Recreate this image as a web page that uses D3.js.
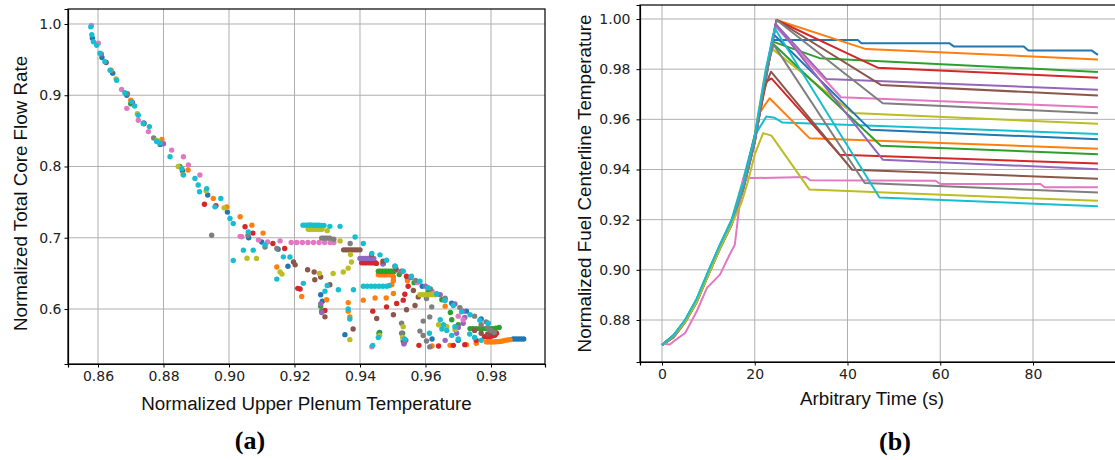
<!DOCTYPE html>
<html>
<head>
<meta charset="utf-8">
<script src="https://cdn.jsdelivr.net/npm/d3@7"></script>
<style>
  body { margin: 0; background: #fff; }
  svg { display: block; }
  .tick text { font-family: "DejaVu Sans", sans-serif; font-size: 14px; fill: #222; }
  .lbl { font-family: "Liberation Sans", Arial, sans-serif; font-size: 18.8px; fill: #111; }
  .tag { font-family: "Liberation Serif", "Times New Roman", serif; font-size: 26px; font-weight: bold; fill: #000; }
</style>
</head>
<body>
<svg id="chart" width="1115" height="460"></svg>
<script>
// matplotlib default colour cycle
const tab10 = ["#1f77b4","#ff7f0e","#2ca02c","#d62728","#9467bd","#8c564b","#e377c2","#7f7f7f","#bcbd22","#17becf"];

// ---- panel (a) ticks
const plenumTicks = [0.86, 0.88, 0.90, 0.92, 0.94, 0.96, 0.98];
const flowTicks = [0.6, 0.7, 0.8, 0.9, 1.0];

// ---- panel (b) ticks
const timeTicks = [0, 20, 40, 60, 80];
const fuelTicks = [0.88, 0.90, 0.92, 0.94, 0.96, 0.98, 1.00];

// ---- panel (a) points: [upper plenum temp, core flow rate]
const blueDots = [[0.8583,0.980],[0.8612,0.953],[0.8645,0.931],[0.8688,0.900],[0.8740,0.861],[0.8790,0.831],[0.8858,0.794],[0.8935,0.760],[0.8995,0.736],[0.9060,0.700],[0.9100,0.694],[0.9150,0.684],
  [0.9280,0.620],[0.9285,0.611],[0.9180,0.660],
  [0.9500,0.651],[0.9545,0.642],[0.9590,0.632],[0.9635,0.621],[0.9680,0.608],[0.9725,0.597],[0.9770,0.586],
  [0.9354,0.564],[0.9460,0.567],[0.9532,0.555],[0.9620,0.558],[0.9700,0.556],
  [0.9868,0.558],[0.9876,0.558],[0.9884,0.558],[0.9892,0.558],[0.9900,0.558]];
const orangeDots = [[0.8640,0.935],[0.8700,0.893],[0.8795,0.838],[0.8860,0.789],[0.8875,0.795],[0.8952,0.7552],[0.8993,0.7434],[0.9034,0.7294],[0.9070,0.7177],[0.9104,0.7065],
  [0.9146,0.659],[0.9222,0.6175],[0.9298,0.613],[0.9364,0.609],[0.9364,0.597],[0.9369,0.589],
  [0.9456,0.648],[0.9462,0.648],[0.9468,0.648],[0.9474,0.648],[0.9480,0.648],[0.9486,0.648],[0.9492,0.648],[0.9498,0.648],[0.9502,0.645],
  [0.9502,0.640],[0.9497,0.634],[0.9502,0.6217],[0.9480,0.6155],[0.9446,0.6155],[0.9410,0.6124],
  [0.9545,0.6395],[0.9660,0.604],
  [0.9620,0.548],[0.9675,0.549],[0.9725,0.550],[0.9755,0.552],[0.9786,0.5538],[0.9793,0.5538],[0.9800,0.5538],[0.9807,0.5538],[0.9814,0.554],[0.9821,0.5542],[0.9828,0.5545],[0.9836,0.555],[0.9843,0.556],[0.9850,0.5565],[0.9858,0.557]];
const greenDots = [[0.8700,0.888],[0.8850,0.800],[0.9280,0.604],[0.9283,0.597],
  [0.9456,0.6531],[0.9462,0.6531],[0.9468,0.6531],[0.9474,0.6531],[0.9480,0.6531],[0.9486,0.6531],[0.9492,0.6531],[0.9498,0.6531],[0.9504,0.6531],
  [0.9520,0.6485],[0.9565,0.637],[0.9610,0.625],[0.9650,0.613],
  [0.9676,0.595],[0.9680,0.585],[0.9700,0.578],[0.9736,0.5725],[0.9745,0.5725],[0.9755,0.5725],[0.9765,0.5725],[0.9775,0.5725],[0.9785,0.5725],[0.9795,0.5725],[0.9805,0.5725],[0.9815,0.573],[0.9825,0.574],
  [0.9458,0.566],[0.9530,0.566]];
const redDots = [[0.8705,0.890],[0.8925,0.747],[0.8960,0.745],[0.9049,0.7154],[0.9073,0.7065],[0.9134,0.692],[0.9170,0.685],
  [0.9210,0.629],[0.9217,0.628],[0.9293,0.598],
  [0.9405,0.665],[0.9411,0.665],[0.9417,0.665],[0.9423,0.665],[0.9429,0.665],[0.9435,0.665],[0.9441,0.665],[0.9447,0.665],[0.9450,0.664],
  [0.9471,0.664],[0.9507,0.660],[0.9527,0.653],[0.9542,0.646],[0.9547,0.632],[0.9537,0.6206],[0.9532,0.6124],[0.9512,0.6077],[0.9481,0.603],[0.9439,0.597],
  [0.9535,0.553],[0.9580,0.549],[0.9640,0.548],[0.9685,0.549],[0.9720,0.550],[0.9755,0.556],[0.9780,0.561],[0.9788,0.561],[0.9796,0.561],[0.9804,0.562],[0.9812,0.563],[0.9817,0.566]];
const purpleDots = [[0.8610,0.958],[0.8800,0.832],[0.9283,0.595],[0.9280,0.607],
  [0.9400,0.671],[0.9406,0.671],[0.9412,0.671],[0.9418,0.671],[0.9424,0.671],[0.9430,0.671],[0.9436,0.671],[0.9442,0.671],
  [0.9470,0.663],[0.9510,0.655],[0.9555,0.644],[0.9600,0.632],[0.9645,0.620],[0.9690,0.607],
  [0.9715,0.597],[0.9720,0.588],[0.9715,0.580],[0.9700,0.574],[0.9695,0.566],[0.9534,0.551],[0.9540,0.556],[0.9660,0.556]];
const brownDots = [[0.8625,0.946],[0.8740,0.860],[0.9197,0.666],[0.9202,0.662],[0.9240,0.655],[0.9260,0.652],[0.9280,0.645],[0.9262,0.641],[0.9293,0.589],[0.9379,0.572],[0.9308,0.634],
  [0.9350,0.683],[0.9357,0.683],[0.9364,0.683],[0.9371,0.683],[0.9378,0.683],[0.9385,0.683],[0.9392,0.683],[0.9400,0.683],
  [0.9435,0.676],[0.9470,0.667],[0.9510,0.656],
  [0.9563,0.626],[0.9578,0.617],[0.9568,0.605],[0.9542,0.599],[0.9502,0.592],[0.9451,0.5866],
  [0.9750,0.570],[0.9770,0.566],[0.9790,0.565],[0.9800,0.568]];
const pinkDots = [[0.8580,0.998],[0.8601,0.973],[0.8672,0.908],[0.8688,0.8816],[0.8723,0.865],[0.8754,0.849],[0.8825,0.823],[0.8861,0.8136],[0.8876,0.802],[0.8911,0.788],[0.9039,0.7013],[0.9034,0.702],[0.9090,0.697],[0.9118,0.694],
  [0.9156,0.6956],[0.9190,0.6933],[0.9207,0.6933],[0.9224,0.6933],[0.9241,0.6933],[0.9258,0.6933],[0.9275,0.6933],[0.9292,0.6933],[0.9309,0.6933],[0.9320,0.6933],
  [0.9575,0.637],[0.9620,0.625],[0.9660,0.612],[0.9700,0.590],[0.9715,0.585],[0.9436,0.547]];
const grayDots = [[0.8690,0.902],[0.8770,0.840],[0.8947,0.7036],[0.9058,0.7036],[0.9110,0.687],[0.9146,0.685],
  [0.9283,0.6995],[0.9289,0.6995],[0.9295,0.6995],[0.9301,0.6995],[0.9308,0.6995],[0.9320,0.698],[0.9370,0.692],
  [0.9525,0.652],[0.9570,0.640],[0.9615,0.628],[0.9660,0.615],[0.9705,0.602],[0.9750,0.590],[0.9785,0.582],
  [0.9603,0.6146],[0.9619,0.603],[0.9613,0.5889],[0.9593,0.583],[0.9583,0.569],[0.9593,0.5628],[0.9603,0.555],[0.9613,0.5468],
  [0.9770,0.578],[0.9790,0.574],[0.9800,0.570],[0.9810,0.567],[0.9527,0.580],[0.9527,0.566]];
const oliveDots = [[0.8655,0.923],[0.8720,0.874],[0.8780,0.8365],[0.8845,0.800],[0.8930,0.766],[0.8985,0.742],[0.9084,0.671],[0.9055,0.6713],[0.9162,0.649],
  [0.9242,0.712],[0.9249,0.712],[0.9256,0.712],[0.9263,0.712],[0.9270,0.712],[0.9277,0.712],[0.9284,0.712],[0.9300,0.710],
  [0.9339,0.6956],[0.9371,0.6764],[0.9374,0.666],[0.9364,0.6573],[0.9349,0.652],[0.9318,0.6498],[0.9276,0.6498],[0.9156,0.652],
  [0.9583,0.620],[0.9592,0.620],[0.9601,0.620],[0.9610,0.620],[0.9620,0.620],[0.9630,0.620],
  [0.9640,0.578],[0.9665,0.575],[0.9690,0.571],[0.9369,0.557],[0.9460,0.563],[0.9530,0.560],[0.9532,0.575]];
const cyanDots = [[0.8578,0.996],[0.8581,0.985],[0.8586,0.975],[0.8596,0.970],[0.8606,0.959],[0.8621,0.947],[0.8637,0.935],[0.8657,0.921],[0.8682,0.9035],[0.8703,0.891],[0.8712,0.885],[0.8723,0.872],[0.8738,0.8605],[0.8757,0.856],[0.8779,0.835],[0.8789,0.833],[0.8820,0.8136],[0.8856,0.797],[0.8861,0.788],[0.8896,0.7833],[0.8906,0.774],[0.8910,0.7645],[0.8932,0.769],[0.8957,0.7434],[0.8975,0.755],[0.9003,0.7271],[0.9013,0.720],[0.9059,0.7083],[0.9074,0.6826],[0.9013,0.668],[0.9044,0.6826],[0.9110,0.690],[0.9146,0.642],[0.9166,0.6732],[0.9186,0.673],
  [0.9226,0.7177],[0.9233,0.7177],[0.9240,0.7177],[0.9247,0.718],[0.9254,0.7177],[0.9261,0.7177],[0.9268,0.7175],[0.9275,0.7175],[0.9282,0.7172],[0.9290,0.7172],[0.9308,0.716],[0.9339,0.716],[0.9385,0.701],[0.9410,0.692],[0.9436,0.678],[0.9461,0.676],
  [0.9481,0.6685],[0.9507,0.660],[0.9532,0.653],[0.9557,0.646],[0.9583,0.639],[0.9608,0.630],[0.9634,0.621],[0.9659,0.612],[0.9685,0.605],[0.9710,0.596],[0.9736,0.592],[0.9766,0.5843],[0.9792,0.580],
  [0.9410,0.632],[0.9422,0.632],[0.9434,0.632],[0.9446,0.632],[0.9458,0.632],[0.9470,0.632],[0.9482,0.632],[0.9490,0.633],
  [0.9380,0.627],[0.9334,0.627],[0.9300,0.633],[0.9227,0.636],[0.9293,0.625],
  [0.9364,0.600],[0.9369,0.586],[0.9439,0.549],[0.9456,0.560],[0.9536,0.558],[0.9612,0.566],[0.9650,0.572],[0.9690,0.575],
  [0.9645,0.585],[0.9655,0.578],[0.9665,0.570],[0.9680,0.563],[0.9700,0.558],[0.9735,0.565],[0.9750,0.560],[0.9770,0.556]];
const dotSets = [blueDots, orangeDots, greenDots, redDots, purpleDots, brownDots, pinkDots, grayDots, oliveDots, cyanDots];

// ---- panel (b) runs: [time (s), normalized fuel centerline temperature]
const run01 = [[0,0.870],[2.5,0.8738],[5,0.8798],[7.5,0.888],[10,0.899],[12.5,0.9095],[15,0.919],[17.5,0.933],[20,0.952],[22.5,0.979],[23.9,0.9916],[42.2,0.9916],[43,0.9903],[62,0.9903],[63,0.989],[78,0.989],[79,0.9874],[92.7,0.9874],[94,0.9857]];
const run02 = [[0,0.870],[2.5,0.8732],[5,0.8792],[7.5,0.8872],[10,0.898],[12.5,0.9085],[15,0.9185],[17.5,0.9325],[20,0.9515],[22.5,0.978],[24.7,0.9996],[44,0.988],[94,0.9839]];
const run03 = [[0,0.870],[2.5,0.8736],[5,0.8796],[7.5,0.8878],[10,0.8988],[12.5,0.9092],[15,0.9188],[17.5,0.9335],[20,0.953],[22.5,0.980],[23.9,0.991],[34,0.9844],[94,0.9789]];
const run04 = [[0,0.870],[2.5,0.8734],[5,0.8794],[7.5,0.8874],[10,0.8984],[12.5,0.9088],[15,0.9182],[17.5,0.9322],[20,0.9512],[22.5,0.9775],[24.7,0.9996],[46.5,0.9806],[94,0.9766]];
const run05 = [[0,0.870],[2.5,0.8737],[5,0.8797],[7.5,0.8877],[10,0.8986],[12.5,0.909],[15,0.9186],[17.5,0.9328],[20,0.952],[22.5,0.9785],[24.5,0.998],[35.4,0.9761],[94,0.9718]];
const run06 = [[0,0.870],[2.5,0.8733],[5,0.8793],[7.5,0.8873],[10,0.8982],[12.5,0.9086],[15,0.918],[17.5,0.932],[20,0.951],[22.5,0.9772],[24.7,0.9996],[47.2,0.9737],[94,0.9695]];
const run07 = [[0,0.870],[2.5,0.8735],[5,0.8795],[7.5,0.8876],[10,0.8985],[12.5,0.9089],[15,0.9184],[17.5,0.9326],[20,0.9518],[22.5,0.978],[24.5,0.997],[38.6,0.9688],[94,0.9648]];
const run08 = [[0,0.870],[2.5,0.8731],[5,0.8791],[7.5,0.8871],[10,0.898],[12.5,0.9084],[15,0.9178],[17.5,0.9318],[20,0.9508],[22.5,0.977],[24.7,0.9996],[47.6,0.9664],[94,0.9624]];
const run09 = [[0,0.870],[2.5,0.8739],[5,0.8799],[7.5,0.8882],[10,0.8992],[12.5,0.9098],[15,0.9195],[17.5,0.934],[20,0.954],[22.2,0.978],[23.5,0.9885],[41.1,0.9625],[94,0.9582]];
const run10 = [[0,0.870],[2.5,0.874],[5,0.880],[7.5,0.8884],[10,0.8995],[12.5,0.910],[15,0.920],[17.5,0.936],[20,0.9535],[22.5,0.9611],[24.3,0.9606],[26,0.9587],[94,0.9542]];
const run11 = [[0,0.870],[2.5,0.8737],[5,0.8797],[7.5,0.8879],[10,0.8989],[12.5,0.9093],[15,0.919],[17.5,0.9332],[20,0.9525],[22.5,0.9795],[24,0.994],[45,0.9558],[94,0.9521]];
const run12 = [[0,0.870],[2.5,0.8736],[5,0.8796],[7.5,0.8877],[10,0.8987],[12.5,0.9092],[15,0.919],[17.5,0.9345],[19.5,0.948],[21,0.9625],[23.2,0.9684],[31.8,0.9525],[94,0.9483]];
const run13 = [[0,0.870],[2.5,0.8734],[5,0.8794],[7.5,0.8875],[10,0.8985],[12.5,0.909],[15,0.9186],[17.5,0.9327],[20,0.9519],[22.5,0.9788],[24,0.990],[47.2,0.9495],[94,0.9461]];
const run14 = [[0,0.870],[2.5,0.8738],[5,0.8798],[7.5,0.888],[10,0.899],[12.5,0.9096],[15,0.9192],[17.5,0.9335],[20,0.953],[22.5,0.975],[23.6,0.9763],[38.3,0.9459],[94,0.9424]];
const run15 = [[0,0.870],[2.5,0.8733],[5,0.8793],[7.5,0.8874],[10,0.8983],[12.5,0.9087],[15,0.9181],[17.5,0.9321],[20,0.9511],[22.5,0.9776],[24.5,0.998],[47.6,0.9439],[94,0.9401]];
const run16 = [[0,0.870],[2.5,0.8736],[5,0.8796],[7.5,0.8878],[10,0.8988],[12.5,0.9094],[15,0.9192],[17.5,0.9338],[20,0.9535],[22,0.972],[23.5,0.979],[41,0.9399],[94,0.9363]];
const run17 = [[0,0.8705],[1.7,0.8702],[2.8,0.8719],[5,0.8748],[7.5,0.8835],[9.7,0.8928],[12.5,0.8981],[14.6,0.9061],[15.7,0.910],[16.4,0.921],[17.5,0.9365],[31,0.937],[32,0.9357],[59,0.9355],[60,0.9342],[81.6,0.9342],[82.5,0.9329],[94,0.9329]];
const run18 = [[0,0.870],[2.5,0.8735],[5,0.8795],[7.5,0.8876],[10,0.8986],[12.5,0.909],[15,0.9185],[17.5,0.9328],[20,0.952],[22.5,0.979],[24,0.990],[43.7,0.9346],[94,0.9308]];
const run19 = [[0,0.870],[2.5,0.8736],[5,0.8793],[7.5,0.8872],[10,0.898],[12.5,0.9085],[15,0.918],[17.1,0.9266],[18.5,0.935],[20,0.946],[21.8,0.9545],[23.6,0.9535],[31.8,0.932],[94,0.9275]];
const run20 = [[0,0.870],[2.5,0.874],[5,0.8802],[7.5,0.8886],[10,0.8996],[12.5,0.910],[15,0.9196],[17.5,0.934],[20,0.9535],[22.5,0.981],[24.3,0.9963],[46.9,0.9288],[94,0.9254]];
const runs = [run01, run02, run03, run04, run05, run06, run07, run08, run09, run10,
              run11, run12, run13, run14, run15, run16, run17, run18, run19, run20];

const svg = d3.select("#chart");

// ---------- panel (a) ----------
const pa = { left: 68, right: 545, top: 9, bottom: 364 };
const xA = d3.scaleLinear().domain([0.85084, 0.99649]).range([pa.left, pa.right]);
const yA = d3.scaleLinear().domain([0.52281, 1.02105]).range([pa.bottom, pa.top]);

const gA = svg.append("g");
gA.append("g").selectAll("line").data(plenumTicks).join("line")
  .attr("x1", d => xA(d)).attr("x2", d => xA(d))
  .attr("y1", pa.top).attr("y2", pa.bottom)
  .attr("stroke", "#b0b0b0").attr("stroke-width", 1);
gA.append("g").selectAll("line").data(flowTicks).join("line")
  .attr("x1", pa.left).attr("x2", pa.right)
  .attr("y1", d => yA(d)).attr("y2", d => yA(d))
  .attr("stroke", "#b0b0b0").attr("stroke-width", 1);

dotSets.forEach((set, i) => {
  gA.append("g").selectAll("circle").data(set).join("circle")
    .attr("cx", d => xA(d[0])).attr("cy", d => yA(d[1]))
    .attr("r", 2.7).attr("fill", tab10[i]);
});

gA.append("g").attr("transform", `translate(0,${pa.bottom})`)
  .call(d3.axisBottom(xA).tickValues(plenumTicks).tickFormat(d3.format(".2f")).tickSize(3.5).tickPadding(4));
gA.append("g").attr("transform", `translate(${pa.left},0)`)
  .call(d3.axisLeft(yA).tickValues(flowTicks).tickFormat(d3.format(".1f")).tickSize(3.5).tickPadding(3));
gA.append("rect").attr("x", pa.left).attr("y", pa.top)
  .attr("width", pa.right - pa.left).attr("height", pa.bottom - pa.top)
  .attr("fill", "none").attr("stroke", "#000").attr("stroke-width", 1.2);

gA.append("text").attr("class", "lbl").attr("text-anchor", "middle")
  .attr("x", (pa.left + pa.right) / 2).attr("y", 410)
  .text("Normalized Upper Plenum Temperature");
gA.append("text").attr("class", "lbl").attr("text-anchor", "middle")
  .attr("transform", `translate(27,${(pa.top + pa.bottom) / 2 + 7}) rotate(-90)`)
  .text("Normalized Total Core Flow Rate");
gA.append("text").attr("class", "tag").attr("text-anchor", "middle")
  .attr("x", 250).attr("y", 449).text("(a)");

// ---------- panel (b) ----------
const pb = { left: 640, right: 1120, top: 5, bottom: 362 };
const xB = d3.scaleLinear().domain([-4.744, 98.76]).range([pb.left, pb.right]);
const yB = d3.scaleLinear().domain([0.86326, 1.00558]).range([pb.bottom, pb.top]);

const gB = svg.append("g");
gB.append("g").selectAll("line").data(timeTicks).join("line")
  .attr("x1", d => xB(d)).attr("x2", d => xB(d))
  .attr("y1", pb.top).attr("y2", pb.bottom)
  .attr("stroke", "#b0b0b0").attr("stroke-width", 1);
gB.append("g").selectAll("line").data(fuelTicks).join("line")
  .attr("x1", pb.left).attr("x2", pb.right)
  .attr("y1", d => yB(d)).attr("y2", d => yB(d))
  .attr("stroke", "#b0b0b0").attr("stroke-width", 1);

const line = d3.line().x(d => xB(d[0])).y(d => yB(d[1]));
gB.append("g").selectAll("path").data(runs).join("path")
  .attr("d", line)
  .attr("fill", "none")
  .attr("stroke", (d, i) => tab10[i % 10])
  .attr("stroke-width", 2)
  .attr("stroke-linejoin", "round");

gB.append("g").attr("transform", `translate(0,${pb.bottom})`)
  .call(d3.axisBottom(xB).tickValues(timeTicks).tickFormat(d3.format("d")).tickSize(3.5).tickPadding(4));
gB.append("g").attr("transform", `translate(${pb.left},0)`)
  .call(d3.axisLeft(yB).tickValues(fuelTicks).tickFormat(d3.format(".2f")).tickSize(3.5).tickPadding(6));
gB.append("rect").attr("x", pb.left).attr("y", pb.top)
  .attr("width", pb.right - pb.left).attr("height", pb.bottom - pb.top)
  .attr("fill", "none").attr("stroke", "#000").attr("stroke-width", 1.2);

gB.append("text").attr("class", "lbl").attr("text-anchor", "middle")
  .attr("x", 872).attr("y", 405)
  .text("Arbitrary Time (s)");
gB.append("text").attr("class", "lbl").attr("text-anchor", "middle")
  .attr("transform", `translate(591,${(pb.top + pb.bottom) / 2}) rotate(-90)`)
  .text("Normalized Fuel Centerline Temperature");
gB.append("text").attr("class", "tag").attr("text-anchor", "middle")
  .attr("x", 895).attr("y", 450).text("(b)");

svg.selectAll(".domain").attr("stroke", "#000").attr("stroke-width", 1.2);
svg.selectAll(".tick line").attr("stroke", "#000");
</script>
</body>
</html>
